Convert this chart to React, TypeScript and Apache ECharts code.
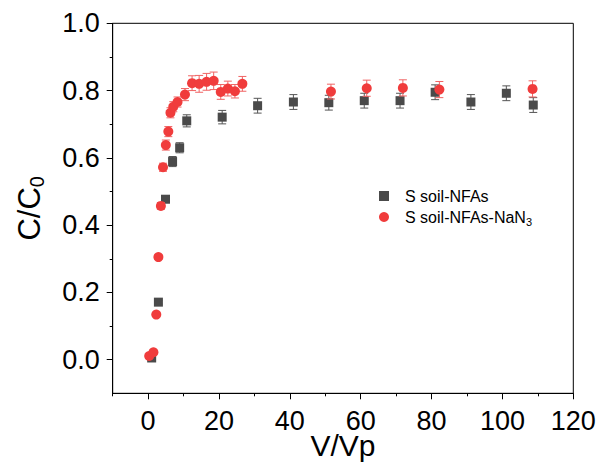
import React, { useEffect, useRef } from "react";
import * as echarts from "echarts";

const vBlack = [1, 2.9, 4.9, 6.9, 8.9, 10.9, 20.9, 30.9, 41, 51, 61, 71.1, 81, 91.1, 101.1, 108.7];
const cBlack = [0.005, 0.171, 0.477, 0.589, 0.63, 0.71, 0.721, 0.755, 0.766, 0.764, 0.77, 0.77, 0.795, 0.766, 0.792, 0.757];
const eBlack = [0.006, 0.006, 0.01, 0.015, 0.015, 0.018, 0.02, 0.022, 0.022, 0.022, 0.022, 0.022, 0.022, 0.022, 0.022, 0.022];

const vRed = [0.3, 1.5, 2.3, 2.9, 3.6, 4.2, 5.0, 5.7, 6.3, 7.1, 8.3, 10.4, 12.4, 14.4, 16.5, 18.5, 20.5, 22.5, 24.5, 26.6, 51.6, 61.7, 71.9, 82.2, 108.5];
const cRed = [0.011, 0.022, 0.134, 0.305, 0.457, 0.572, 0.638, 0.678, 0.734, 0.752, 0.766, 0.788, 0.822, 0.82, 0.826, 0.829, 0.796, 0.806, 0.798, 0.82, 0.797, 0.807, 0.808, 0.803, 0.805];
const eRed = [0.004, 0.004, 0.005, 0.006, 0.01, 0.012, 0.015, 0.015, 0.015, 0.015, 0.015, 0.018, 0.022, 0.025, 0.025, 0.026, 0.022, 0.022, 0.02, 0.022, 0.022, 0.024, 0.024, 0.024, 0.024];

const xMajor = [0, 20, 40, 60, 80, 100, 120];
const xMinor = [-10, 10, 30, 50, 70, 90, 110];
const yMajor = [0, 0.2, 0.4, 0.6, 0.8, 1.0];
const yMinor = [0.1, 0.3, 0.5, 0.7, 0.9];

const nameBlack = "S soil-NFAs";
const nameRed = "S soil-NFAs-NaN3";

const FONT = "'Liberation Sans', Arial, sans-serif";
const BLACK = "#4a4a4a";
const RED = "#f03c3c";

function errBar(color: string) {
  return (params: any, api: any) => {
    const x = api.value(0);
    const y = api.value(1);
    const e = api.value(2);
    const top = api.coord([x, y + e]);
    const bot = api.coord([x, y - e]);
    const hw = 4;
    const style = { stroke: color, lineWidth: 1 };
    return {
      type: "group",
      children: [
        { type: "line", shape: { x1: top[0], y1: top[1], x2: bot[0], y2: bot[1] }, style },
        { type: "line", shape: { x1: top[0] - hw, y1: top[1], x2: top[0] + hw, y2: top[1] }, style },
        { type: "line", shape: { x1: bot[0] - hw, y1: bot[1], x2: bot[0] + hw, y2: bot[1] }, style },
      ],
    };
  };
}

export default function App() {
  const ref = useRef<HTMLDivElement>(null);
  useEffect(() => {
    if (!ref.current) return;
    const chart = echarts.init(ref.current, null, { renderer: "svg" });
    const blackPts = vBlack.map((v, i) => [v, cBlack[i]]);
    const redPts = vRed.map((v, i) => [v, cRed[i]]);
    const blackErr = vBlack.map((v, i) => [v, cBlack[i], eBlack[i]]);
    const redErr = vRed.map((v, i) => [v, cRed[i], eRed[i]]);
    const baseX = { type: "value", min: -10, max: 120, gridIndex: 0, splitLine: { show: false } };
    const baseY = { type: "value", min: -0.1, max: 1.0, gridIndex: 0, splitLine: { show: false } };
    chart.setOption({
      animation: false,
      backgroundColor: "#ffffff",
      textStyle: { fontFamily: FONT },
      grid: {
        left: 112.7,
        top: 23.3,
        right: 29.7,
        bottom: 72.7,
        show: true,
        borderColor: "#000",
        borderWidth: 1,
        containLabel: false,
        outerBoundsMode: "none",
      },
      legend: {
        orient: "vertical",
        left: 374,
        top: 183,
        itemWidth: 10,
        itemHeight: 10,
        itemGap: 5,
        data: [
          { name: nameBlack, icon: "rect" },
          { name: nameRed, icon: "circle" },
        ],
        formatter: (name: string) =>
          name === nameRed ? "{a|S soil-NFAs-NaN}{s|3}" : "{a|" + name + "}",
        textStyle: {
          fontFamily: FONT,
          color: "#000",
          padding: [0, 0, 0, 11],
          rich: {
            a: { fontSize: 16, fontFamily: FONT, color: "#000" },
            s: { fontSize: 11, fontFamily: FONT, color: "#000", padding: [9, 0, 0, 0] },
          },
        },
      },
      xAxis: [
        {
          ...baseX,
          position: "bottom",
          name: "V/Vp",
          nameLocation: "middle",
          nameGap: 41,
          nameMoveOverlap: false,
          nameTextStyle: { fontSize: 30, lineHeight: 22, color: "#000", fontFamily: FONT },
          axisLine: { show: true, onZero: false, lineStyle: { color: "#000", width: 1 } },
          axisTick: { show: true, inside: false, length: 6, customValues: xMajor, lineStyle: { color: "#000" } },
          axisLabel: {
            show: true,
            customValues: xMajor,
            fontSize: 27,
            lineHeight: 20,
            color: "#000",
            margin: 17.6,
            fontFamily: FONT,
          },
        },
        {
          ...baseX,
          position: "bottom",
          axisLine: { show: false, onZero: false },
          axisTick: { show: true, inside: false, length: 3, customValues: xMinor, lineStyle: { color: "#000" } },
          axisLabel: { show: false },
        },
      ],
      yAxis: [
        {
          ...baseY,
          position: "left",
          name: "{a|C/C}{s|0}",
          nameLocation: "middle",
          nameRotate: 90,
          nameGap: 66,
          nameMoveOverlap: false,
          nameTextStyle: {
            color: "#000",
            fontFamily: FONT,
            rich: {
              a: { fontSize: 31, fontFamily: FONT, color: "#000" },
              s: { fontSize: 20, fontFamily: FONT, color: "#000", padding: [14, 0, 0, 0] },
            },
          },
          axisLine: { show: true, onZero: false, lineStyle: { color: "#000", width: 1 } },
          axisTick: { show: true, inside: false, length: 6, customValues: yMajor, lineStyle: { color: "#000" } },
          axisLabel: {
            show: true,
            customValues: yMajor,
            formatter: (v: number) => v.toFixed(1),
            fontSize: 27,
            color: "#000",
            margin: 13,
            fontFamily: FONT,
          },
        },
        {
          ...baseY,
          position: "left",
          axisLine: { show: false, onZero: false },
          axisTick: { show: true, inside: false, length: 3, customValues: yMinor, lineStyle: { color: "#000" } },
          axisLabel: { show: false },
        },
      ],
      series: [
        {
          type: "custom",
          name: "errBlack",
          xAxisIndex: 0,
          yAxisIndex: 0,
          renderItem: errBar("#555555"),
          encode: { x: 0, y: 1 },
          data: blackErr,
          z: 2,
          silent: true,
        },
        {
          type: "scatter",
          name: nameBlack,
          xAxisIndex: 0,
          yAxisIndex: 0,
          symbol: "rect",
          symbolSize: 9,
          itemStyle: { color: BLACK, opacity: 1 },
          data: blackPts,
          z: 3,
        },
        {
          type: "custom",
          name: "errRed",
          xAxisIndex: 0,
          yAxisIndex: 0,
          renderItem: errBar("#f06464"),
          encode: { x: 0, y: 1 },
          data: redErr,
          z: 4,
          silent: true,
        },
        {
          type: "scatter",
          name: nameRed,
          xAxisIndex: 0,
          yAxisIndex: 0,
          symbol: "circle",
          symbolSize: 10,
          itemStyle: { color: RED, opacity: 1 },
          data: redPts,
          z: 5,
        },
      ],
    });
    return () => chart.dispose();
  }, []);
  return <div ref={ref} style={{ width: 603, height: 466, position: "absolute", left: 0, top: 0 }} />;
}
